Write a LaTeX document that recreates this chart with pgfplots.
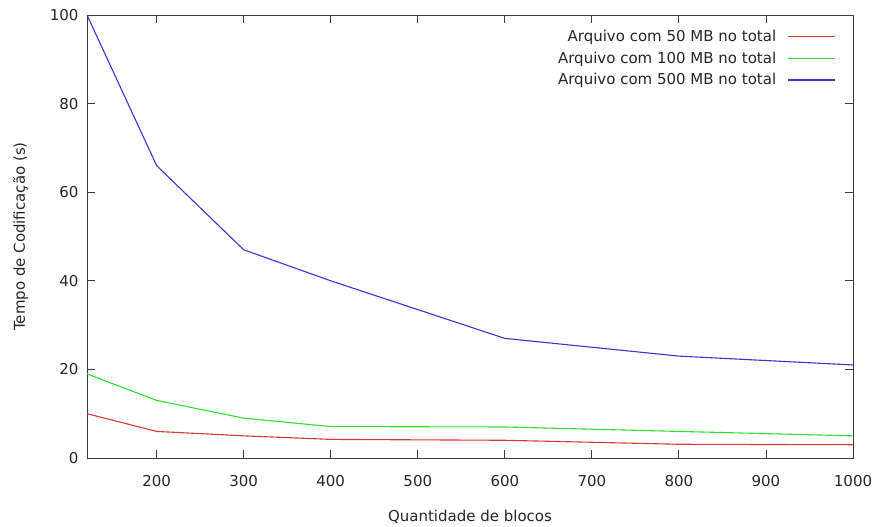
\documentclass[border=0pt]{standalone}
\usepackage{fontspec}
\setmainfont{DejaVu Sans}
\usepackage{pgfplots}
\pgfplotsset{compat=1.18}
\definecolor{cred}{RGB}{220,55,55}
\definecolor{cgreen}{RGB}{50,220,50}
\definecolor{cblue}{RGB}{55,55,205}
\definecolor{axgray}{RGB}{60,60,60}
\begin{document}
\begin{tikzpicture}
\begin{axis}[
  scale only axis,
  width=766pt, height=443pt,
  xmin=120, xmax=1000, ymin=0, ymax=100,
  xtick={200,300,...,1000},
  ytick={0,20,...,100},
  tick align=inside,
  major tick length=8pt,
  axis line style={axgray, line width=0.9pt},
  every tick/.style={axgray, line width=0.9pt},
  tick label style={font=\fontsize{15}{17}\selectfont, text=black!85},
  xticklabel style={yshift=-14pt},
  yticklabel style={xshift=-5pt},
  /pgf/number format/assume math mode=true,
  /pgf/number format/1000 sep={},
  xlabel={Quantidade de blocos},
  ylabel={Tempo de Codificação (s)},
  label style={font=\fontsize{15}{17}\selectfont, text=black!85},
  xlabel style={yshift=-16pt},
  ylabel style={yshift=15pt},
  legend style={draw=none, fill=none, at={(1,1)}, anchor=north east,
    xshift=-14.5pt, yshift=-10.6pt,
    font=\fontsize{15}{17}\selectfont, text=black!85, row sep=5pt},
  legend cell align=right,
  legend plot pos=right,
  legend image code/.code={\path (0pt,0pt); \draw[#1] (9pt,0pt) -- (56pt,0pt);},
]
\addplot[cred, line width=1.1pt] coordinates {(120,10) (200,6) (300,5) (400,4.2) (600,4) (800,3.1) (1000,3)};
\addlegendentry{Arquivo com 50 MB no total}
\addplot[cgreen, line width=1.1pt] coordinates {(120,19) (200,13) (300,9) (400,7.1) (600,7) (800,6) (1000,5)};
\addlegendentry{Arquivo com 100 MB no total}
\addplot[cblue, line width=1.1pt] coordinates {(120,100) (200,66) (300,47) (400,40) (600,27) (800,23) (1000,21)};
\addlegendentry{Arquivo com 500 MB no total}
\end{axis}
\path (current axis.south west) ++(-87pt,-67pt) coordinate (bbA);
\path (current axis.north east) ++(24pt,15pt) coordinate (bbB);
\path (bbA) rectangle (bbB);
\end{tikzpicture}
\end{document}
